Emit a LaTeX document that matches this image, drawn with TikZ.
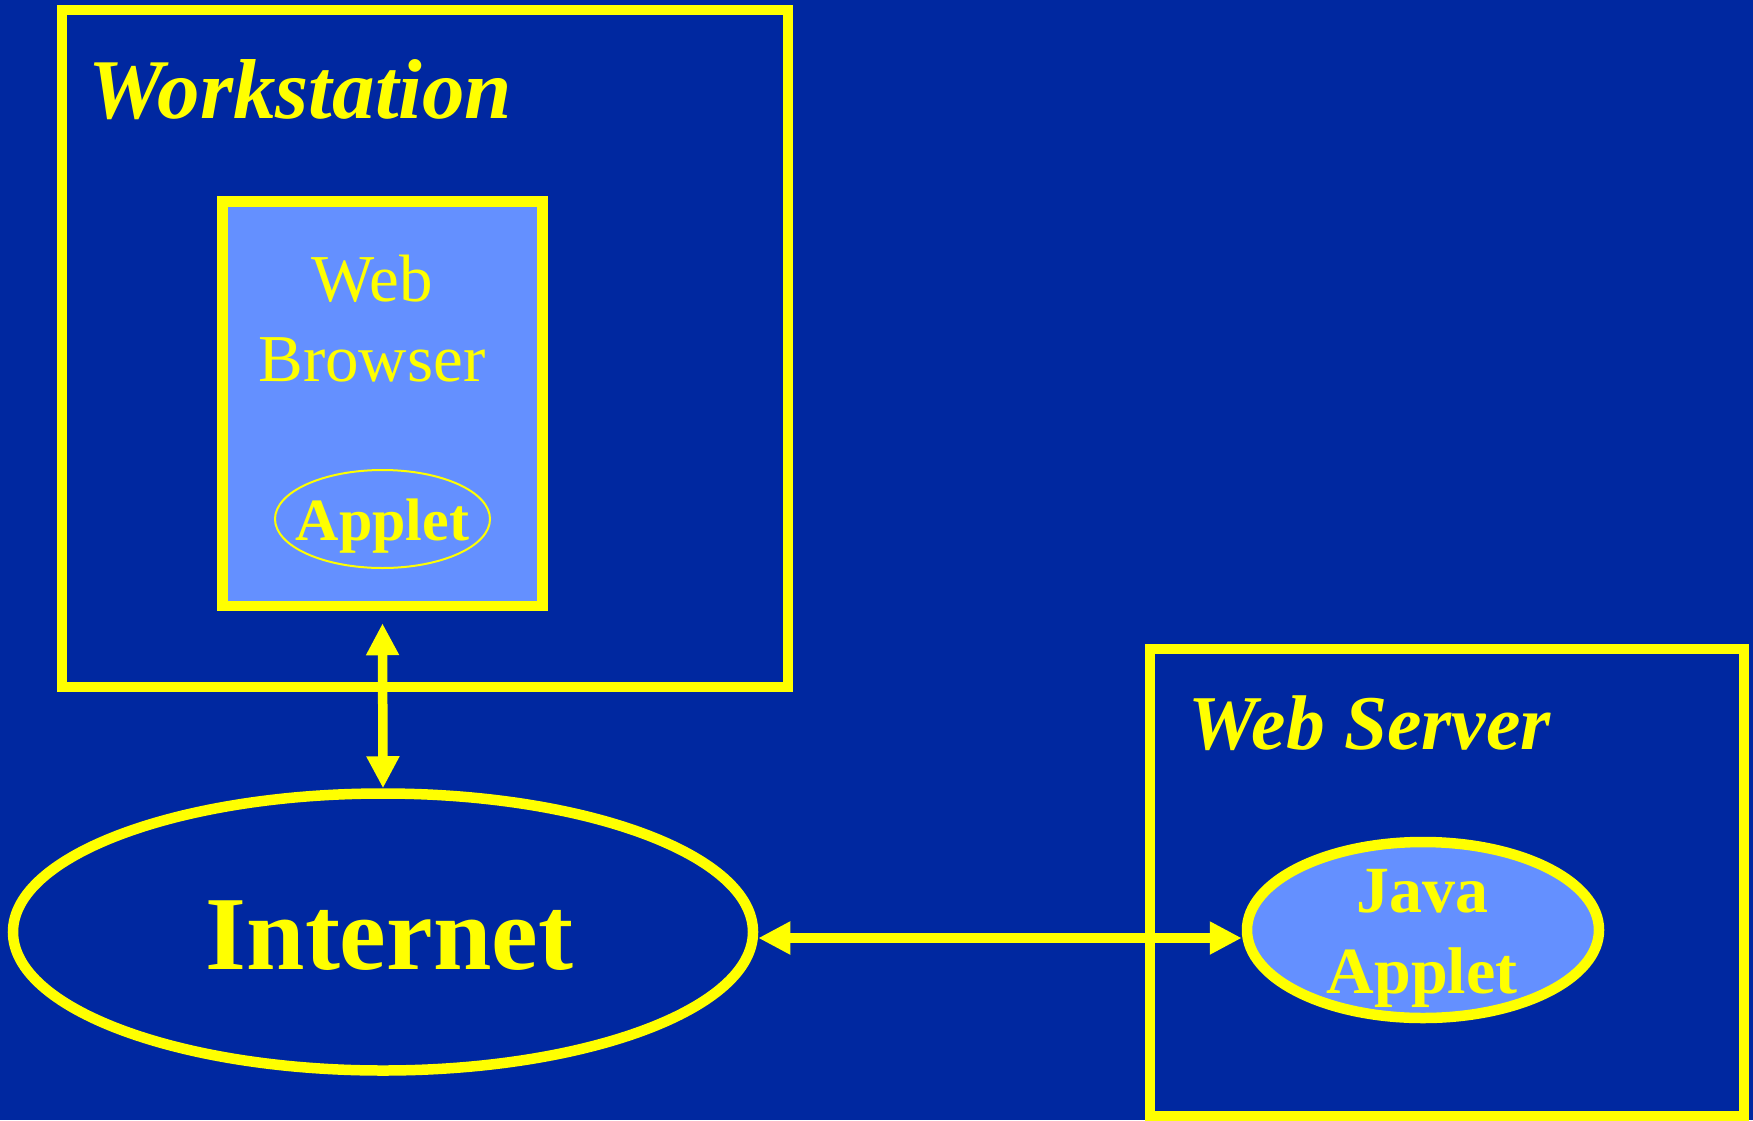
\documentclass[tikz,border=0pt]{standalone}
\usepackage{fontspec}
\setmainfont{Liberation Serif}
\usetikzlibrary{arrows.meta,shapes.geometric,fit}
\definecolor{bgblue}{RGB}{0,40,160}
\definecolor{lightblue}{RGB}{100,144,255}
\definecolor{ylw}{RGB}{255,255,0}
\begin{document}
\begin{tikzpicture}[x=0.4pt,y=-0.4pt,
  frame/.style={draw=ylw, line width=4pt, inner sep=0pt},
  oval/.style={ellipse, draw=ylw, line width=4.2pt, inner sep=0pt},
  lbl/.style={text=ylw, inner sep=0pt},
  dbl/.style={draw=ylw, line width=3.8pt,
    {Triangle[length=12.8pt,width=12.4pt]}-{Triangle[length=12.8pt,width=12.4pt]}}]
\fill[bgblue] (0,0) rectangle (1753,1120);
\useasboundingbox (0,0) rectangle (1753,1120);

% boxes
\node[frame, fit={(62,9.5) (788,686.5)}] (ws) {};
\node[frame, fill=lightblue, line width=4.2pt, fit={(222.5,201.5) (542.5,606)}] (browser) {};
\node[frame, fit={(1150,649) (1744,1116)}] (server) {};

% ellipses
\node[ellipse, draw=ylw, line width=0.8pt, inner sep=0pt,
      minimum width=86pt, minimum height=39.2pt] (appletell) at (382.5,519) {};
\node[oval, minimum width=296pt, minimum height=110.8pt] (internet) at (383,932) {};
\node[oval, fill=lightblue, minimum width=140.8pt, minimum height=70.4pt] (javaell) at (1423,930) {};

% texts
\node[lbl, font=\fontsize{34}{40}\selectfont\bfseries\itshape, anchor=base west] (wslabel) at (88,118) {Workstation};
\node[lbl, font=\fontsize{26.8}{32}\selectfont, anchor=base] (webtxt) at (372,301) {Web};
\node[lbl, font=\fontsize{26.8}{32}\selectfont, anchor=base] (browsertxt) at (372,381) {Browser};
\node[lbl, font=\fontsize{24}{29}\selectfont\bfseries, anchor=base] (applettxt) at (382.5,540) {Applet};
\node[lbl, font=\fontsize{42}{50}\selectfont\bfseries, anchor=base] (inttxt) at (389.5,969) {Internet};
\node[lbl, font=\fontsize{31}{37}\selectfont\bfseries\itshape, anchor=base west] (servertxt) at (1188,749) {Web Server};
\node[lbl, font=\fontsize{26.4}{32}\selectfont\bfseries, anchor=base] (javatxt) at (1422,912) {Java};
\node[lbl, font=\fontsize{26.4}{32}\selectfont\bfseries, anchor=base] (javaapplettxt) at (1422,993) {Applet};

% connectors
\draw[dbl] ([yshift=-4.8pt]browser.south) -- (internet.north);
\coordinate (hy) at (0,938);
\draw[dbl] (internet.east |- hy) -- (javaell.west |- hy);
\end{tikzpicture}
\end{document}
